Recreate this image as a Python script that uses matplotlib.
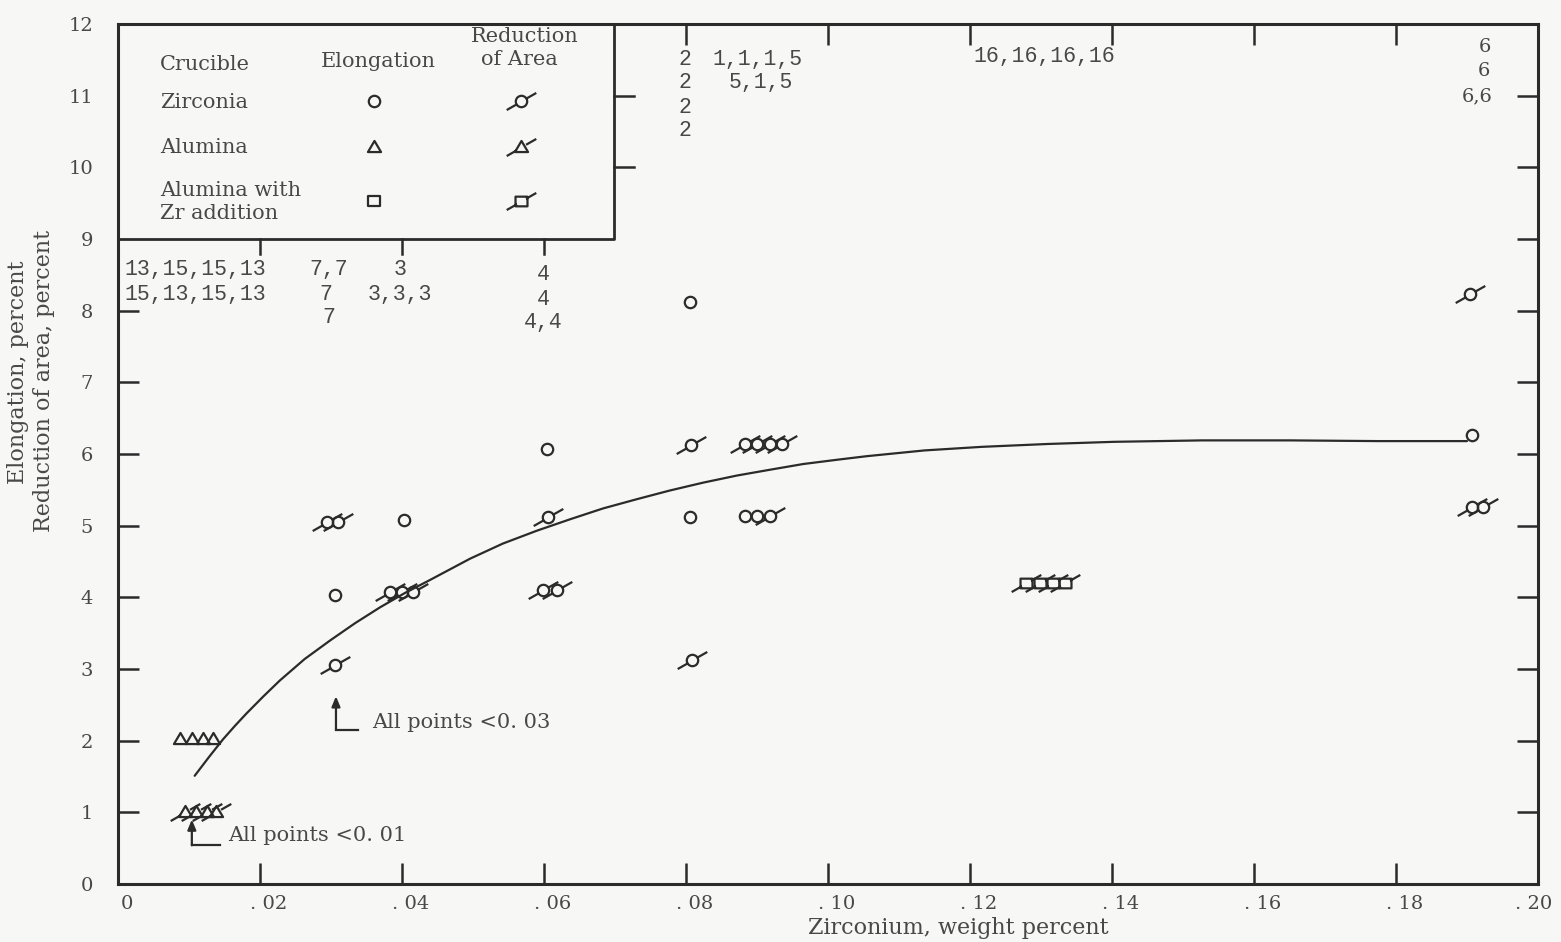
import numpy as np
import matplotlib
matplotlib.use("Agg")
import matplotlib.pyplot as plt
from matplotlib.path import Path
from matplotlib.transforms import ScaledTranslation

# ---------------- data ----------------
# Zirconia crucible
zr_elong_x = [0.0306, 0.0403, 0.0604, 0.0806, 0.0806, 0.0883, 0.0900, 0.1907]
zr_elong_y = [4.03, 5.08, 6.07, 8.12, 5.12, 5.13, 5.13, 6.26]
zr_ra_x = [0.0294, 0.0310, 0.0306, 0.0383, 0.0400, 0.0415, 0.0606, 0.0599, 0.0618,
           0.0807, 0.0808, 0.0883, 0.0900, 0.0918, 0.0935, 0.0918, 0.1904, 0.1907, 0.1923]
zr_ra_y = [5.05, 5.05, 3.06, 4.07, 4.07, 4.07, 5.12, 4.10, 4.10,
           6.13, 3.12, 6.14, 6.14, 6.14, 6.14, 5.13, 8.23, 5.26, 5.26]
# Alumina crucible
al_elong_x = [0.0087, 0.0104, 0.0120, 0.0134]
al_elong_y = [2.02, 2.02, 2.02, 2.02]
al_ra_x = [0.0094, 0.0110, 0.0125, 0.0138]
al_ra_y = [1.00, 1.00, 1.00, 1.00]
# Alumina with Zr addition
alzr_ra_x = [0.1279, 0.1299, 0.1317, 0.1334]
alzr_ra_y = [4.20, 4.20, 4.20, 4.20]
# faired curve
curve_x = [0.0108, 0.0128, 0.0148, 0.0165, 0.0181, 0.0205, 0.0228, 0.0263, 0.0299,
           0.0334, 0.0369, 0.0404, 0.0439, 0.0496, 0.0542, 0.0590, 0.0637, 0.0683,
           0.0731, 0.0777, 0.0824, 0.0872, 0.0918, 0.0965, 0.1013, 0.1055, 0.1136,
           0.1217, 0.1310, 0.1403, 0.1527, 0.1651, 0.1775, 0.1900]
curve_y = [1.51, 1.77, 2.02, 2.21, 2.38, 2.62, 2.84, 3.14, 3.40,
           3.64, 3.86, 4.06, 4.24, 4.54, 4.75, 4.93, 5.09, 5.24,
           5.37, 5.49, 5.60, 5.70, 5.78, 5.86, 5.92, 5.97, 6.05,
           6.10, 6.14, 6.17, 6.19, 6.19, 6.18, 6.18]
# heat-number annotations: (text, x, y, alignment)
heat_labels = [
    ("13,15,15,13", 0.00085, 8.57, "left"),
    ("15,13,15,13", 0.00085, 8.23, "left"),
    ("7,7", 0.0297, 8.57, "center"),
    ("7", 0.0292, 8.23, "center"),
    ("7", 0.0297, 7.90, "center"),
    ("3", 0.0397, 8.57, "center"),
    ("3,3,3", 0.0397, 8.23, "center"),
    ("4", 0.0599, 8.50, "center"),
    ("4", 0.0599, 8.16, "center"),
    ("4,4", 0.0599, 7.83, "center"),
    ("2", 0.0799, 11.50, "center"),
    ("2", 0.0799, 11.18, "center"),
    ("2", 0.0799, 10.84, "center"),
    ("2", 0.0799, 10.52, "center"),
    ("1,1,1,5", 0.0901, 11.50, "center"),
    ("5,1,5", 0.0906, 11.18, "center"),
    ("16,16,16,16", 0.1304, 11.54, "center"),
]
six_labels = [("6", 0.1925, 11.68), ("6", 0.1924, 11.34), ("6,6", 0.1915, 10.99)]
x_ticks = [0, 0.02, 0.04, 0.06, 0.08, 0.10, 0.12, 0.14, 0.16, 0.18, 0.20]
x_tick_labels = ["0", ". 02", ". 04", ". 06", ". 08", ". 10", ". 12", ". 14", ". 16", ". 18", ". 20"]
y_ticks = list(range(0, 13))
legend_tick_x = [0.02, 0.04, 0.06]
legend_tick_y = [10, 11]

# ---------------- style ----------------
INK = "#2b2b2b"
TXT = "#484848"
BG = "#f7f7f6"
SERIF = ["DejaVu Serif"]
MONO = ["Liberation Mono", "DejaVu Sans Mono"]
FS = 15

fig = plt.figure(figsize=(15.61, 9.42), dpi=100, facecolor=BG)
ax = fig.add_axes([118 / 1561, 58 / 942, 1420 / 1561, 860 / 942])
ax.set_facecolor(BG)
ax.set_xlim(0, 0.20)
ax.set_ylim(0, 12)

for s in ax.spines.values():
    s.set_linewidth(2.2)
    s.set_color(INK)

# ---------------- markers ----------------
def shape_path(kind):
    if kind == "o":
        return Path.unit_circle()
    if kind == "^":
        v = [(0, 1.15), (-1.15, -0.8), (1.15, -0.8), (0, 1.15)]
    else:
        v = [(-1.05, -0.85), (1.05, -0.85), (1.05, 0.85), (-1.05, 0.85), (-1.05, -0.85)]
    return Path(v, [Path.MOVETO] + [Path.LINETO] * (len(v) - 2) + [Path.CLOSEPOLY])

def make_marker(kind, slash):
    p = shape_path(kind)
    if not slash:
        return p, np.abs(p.vertices).max()
    s = Path([(-2.6, -1.5), (-0.8, -0.48), (0.8, 0.48), (2.6, 1.5)],
             [Path.MOVETO, Path.LINETO, Path.MOVETO, Path.LINETO])
    cp = Path.make_compound_path(p, s)
    return cp, np.abs(cp.vertices).max()

R_PT = 4.1  # unit radius in points

def scatter(x, y, kind, slash):
    m, ext = make_marker(kind, slash)
    ax.plot(x, y, linestyle="none", marker=m, markersize=2 * ext * R_PT,
            markerfacecolor="none", markeredgecolor=INK, markeredgewidth=1.6,
            zorder=4, clip_on=False)

scatter(zr_elong_x, zr_elong_y, "o", False)
scatter(zr_ra_x, zr_ra_y, "o", True)
scatter(al_elong_x, al_elong_y, "^", False)
scatter(al_ra_x, al_ra_y, "^", True)
scatter(alzr_ra_x, alzr_ra_y, "s", True)

ax.plot(curve_x, curve_y, color=INK, linewidth=1.6, zorder=3,
        solid_joinstyle="round", solid_capstyle="round")

# ---------------- ticks ----------------
ax.set_xticks(x_ticks)
ax.set_xticklabels(x_tick_labels)
ax.set_yticks(y_ticks)
ax.set_yticklabels([str(v) for v in y_ticks])
ax.tick_params(axis="both", which="major", direction="in", length=15, width=1.8,
               color=INK, labelcolor=TXT, labelsize=14)
ax.tick_params(axis="x", top=True, pad=8)
ax.tick_params(axis="y", right=True, pad=18)
for lab in ax.get_xticklabels() + ax.get_yticklabels():
    lab.set_fontfamily(SERIF)
xlabs = ax.get_xticklabels()
for i, lab in enumerate(xlabs):
    dx = 9 if i < len(xlabs) - 1 else -4
    lab.set_transform(lab.get_transform() + ScaledTranslation(dx / 100, 0, fig.dpi_scale_trans))
# hide ticks at the corners / under the legend box
for t, v in zip(ax.yaxis.get_major_ticks(), y_ticks):
    if v in (0, 12):
        t.tick1line.set_visible(False)
        t.tick2line.set_visible(False)
    if v >= 9:
        t.tick1line.set_visible(False)
for t, v in zip(ax.xaxis.get_major_ticks(), x_ticks):
    if v in (0, 0.20):
        t.tick1line.set_visible(False)
        t.tick2line.set_visible(False)
    if v <= 0.06:
        t.tick2line.set_visible(False)

# ---------------- legend box ----------------
LX1, LY0 = 0.0699, 9.0
ax.plot([0, LX1, LX1], [LY0, LY0, 12], color=INK, linewidth=2.0, zorder=5, clip_on=False)
for xv in legend_tick_x:
    ax.plot([xv, xv], [LY0, LY0 - 0.21], color=INK, linewidth=1.8, zorder=5)
for yv in legend_tick_y:
    ax.plot([LX1, LX1 + 0.0028], [yv, yv], color=INK, linewidth=1.8, zorder=5)

lkw = dict(fontfamily=SERIF, fontsize=FS, color=TXT, va="center", zorder=6)
ax.text(0.0573, 11.82, "Reduction", ha="center", **lkw)
ax.text(0.0566, 11.50, "of Area", ha="center", **lkw)
ax.text(0.0059, 11.43, "Crucible", ha="left", **lkw)
ax.text(0.0366, 11.47, "Elongation", ha="center", **lkw)
ax.text(0.0059, 10.90, "Zirconia", ha="left", **lkw)
ax.text(0.0059, 10.27, "Alumina", ha="left", **lkw)
ax.text(0.0059, 9.68, "Alumina with", ha="left", **lkw)
ax.text(0.0059, 9.35, "Zr addition", ha="left", **lkw)

leg_x_el, leg_x_ra = 0.0361, 0.0568
leg_rows = [("o", 10.93), ("^", 10.28), ("s", 9.53)]
for kind, yv in leg_rows:
    scatter([leg_x_el], [yv], kind, False)
    scatter([leg_x_ra], [yv], kind, True)

# ---------------- heat annotations ----------------
for txt, xv, yv, ha in heat_labels:
    ax.text(xv, yv, txt, ha=ha, va="center", fontfamily=MONO, fontsize=15.5,
            color=TXT, zorder=6)
for txt, xv, yv in six_labels:
    ax.text(xv, yv, txt, ha="center", va="center", fontfamily=SERIF, fontsize=14,
            color=TXT, zorder=6)

# ---------------- "All points" callouts ----------------
akw = dict(arrowstyle="-|>,head_length=0.6,head_width=0.25", color=INK, lw=1.6,
           shrinkA=0, shrinkB=0)
ax.annotate("", xy=(0.0307, 2.62), xytext=(0.0307, 2.15), arrowprops=akw)
ax.plot([0.0307, 0.0338], [2.15, 2.15], color=INK, linewidth=1.6)
ax.text(0.0358, 2.26, "All points <0. 03", ha="left", va="center",
        fontfamily=SERIF, fontsize=FS, color=TXT)
ax.annotate("", xy=(0.0104, 0.90), xytext=(0.0104, 0.54), arrowprops=akw)
ax.plot([0.0104, 0.0144], [0.54, 0.54], color=INK, linewidth=1.6)
ax.text(0.0155, 0.67, "All points <0. 01", ha="left", va="center",
        fontfamily=SERIF, fontsize=FS, color=TXT)

# ---------------- axis titles ----------------
fig.text(958 / 1561, 1 - 928 / 942, "Zirconium, weight percent", ha="center", va="center",
         fontfamily=SERIF, fontsize=16, color=TXT)
fig.text(18 / 1561, 1 - 372 / 942, "Elongation, percent", rotation=90, ha="center",
         va="center", fontfamily=SERIF, fontsize=16, color=TXT)
fig.text(44 / 1561, 1 - 381 / 942, "Reduction of area, percent", rotation=90, ha="center",
         va="center", fontfamily=SERIF, fontsize=16, color=TXT)

fig.savefig("out.png", dpi=100, facecolor=BG)
